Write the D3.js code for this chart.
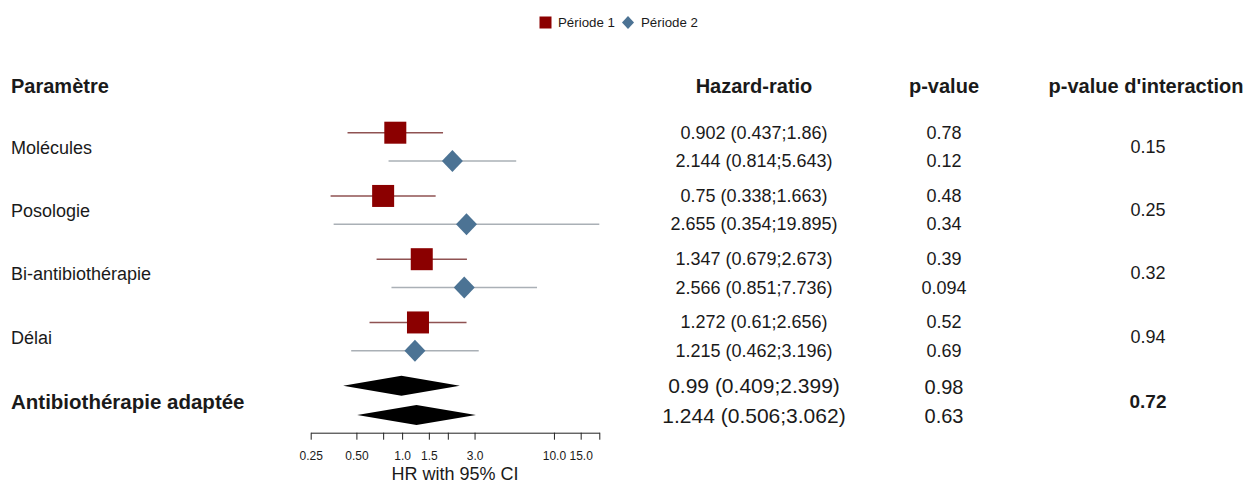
<!DOCTYPE html>
<html>
<head>
<meta charset="utf-8">
<script src="https://cdn.jsdelivr.net/npm/d3@7"></script>
<style>
  html, body { margin: 0; padding: 0; background: #fff; }
  svg text { font-family: "Liberation Sans", Arial, sans-serif; fill: #1a1a1a; }
</style>
</head>
<body>
<svg id="chart" width="1250" height="483"></svg>
<script>
// Subgroup parameters
const params = ["Molécules", "Posologie", "Bi-antibiothérapie", "Délai"];
const summaryLabel = "Antibiothérapie adaptée";

// Période 1 estimates
const hrP1   = [0.902, 0.75, 1.347, 1.272];
const lowP1  = [0.437, 0.338, 0.679, 0.61];
const highP1 = [1.86, 1.663, 2.673, 2.656];
const pP1    = ["0.78", "0.48", "0.39", "0.52"];

// Période 2 estimates
const hrP2   = [2.144, 2.655, 2.566, 1.215];
const lowP2  = [0.814, 0.354, 0.851, 0.462];
const highP2 = [5.643, 19.895, 7.736, 3.196];
const pP2    = ["0.12", "0.34", "0.094", "0.69"];

// Interaction p-values per parameter
const pInter = ["0.15", "0.25", "0.32", "0.94"];

// Overall (summary) estimates: Période 1, Période 2
const hrSum   = [0.99, 1.244];
const lowSum  = [0.409, 0.506];
const highSum = [2.399, 3.062];
const pSum    = ["0.98", "0.63"];
const pInterSum = "0.72";

// Axis ticks
const tickValues = [0.25, 0.5, 0.75, 1, 1.5, 2, 3, 10, 15, 19.895];
const tickLabels = ["0.25", "0.50", "", "1.0", "1.5", "", "3.0", "10.0", "15.0", ""];

const svg = d3.select("#chart");

const x = d3.scaleLog().domain([0.25, 19.895]).range([310.7, 599.3]);
// row of each parameter group (index 4 = overall)
const gy = d3.scaleLinear().domain([0, 4]).range([132.7, 385.7]);
const pairOffset = 28.4;

const colP1 = "#8b0000", colP1Line = "#8f5252";
const colP2 = "#4c7394", colP2Line = "#aab0b6";

const fmt = (h, l, u) => `${h} (${l};${u})`;

// ---- Legend ----
const legend = svg.append("g");
legend.append("rect").attr("x", 539.5).attr("y", 16.5).attr("width", 12).attr("height", 12).attr("fill", colP1);
legend.append("text").attr("x", 558).attr("y", 22.5).attr("dominant-baseline", "central")
  .attr("font-size", 13.3).text("Période 1");
legend.append("path").attr("transform", "translate(628,22.5)")
  .attr("d", "M0,-6.5L6,0L0,6.5L-6,0Z").attr("fill", colP2);
legend.append("text").attr("x", 641).attr("y", 22.5).attr("dominant-baseline", "central")
  .attr("font-size", 13.3).text("Période 2");

// ---- Headers ----
const headY = 86;
svg.append("text").attr("x", 11).attr("y", headY).attr("dominant-baseline", "central")
  .attr("font-size", 20).attr("font-weight", "bold").text("Paramètre");
svg.append("text").attr("x", 754).attr("y", headY).attr("text-anchor", "middle").attr("dominant-baseline", "central")
  .attr("font-size", 20).attr("font-weight", "bold").text("Hazard-ratio");
svg.append("text").attr("x", 944).attr("y", headY).attr("text-anchor", "middle").attr("dominant-baseline", "central")
  .attr("font-size", 20).attr("font-weight", "bold").text("p-value");
svg.append("text").attr("x", 1146).attr("y", headY).attr("text-anchor", "middle").attr("dominant-baseline", "central")
  .attr("font-size", 20).attr("font-weight", "bold").text("p-value d'interaction");

// ---- Subgroup rows ----
params.forEach((name, i) => {
  const y1 = gy(i), y2 = gy(i) + pairOffset, ym = (y1 + y2) / 2;

  svg.append("text").attr("x", 11).attr("y", ym + 1).attr("dominant-baseline", "central")
    .attr("font-size", 18).text(name);

  // CI lines
  svg.append("line").attr("x1", x(lowP1[i])).attr("x2", x(highP1[i])).attr("y1", y1).attr("y2", y1)
    .attr("stroke", colP1Line).attr("stroke-width", 1.5);
  svg.append("line").attr("x1", x(lowP2[i])).attr("x2", x(highP2[i])).attr("y1", y2).attr("y2", y2)
    .attr("stroke", colP2Line).attr("stroke-width", 1.5);

  // point estimates
  const s = 22;
  svg.append("rect").attr("x", x(hrP1[i]) - s / 2).attr("y", y1 - s / 2)
    .attr("width", s).attr("height", s).attr("fill", colP1);
  svg.append("path").attr("transform", `translate(${x(hrP2[i])},${y2})`)
    .attr("d", "M0,-11L10.5,0L0,11L-10.5,0Z").attr("fill", colP2);

  // table columns
  svg.append("text").attr("x", 754).attr("y", y1).attr("text-anchor", "middle").attr("dominant-baseline", "central")
    .attr("font-size", 18).text(fmt(hrP1[i], lowP1[i], highP1[i]));
  svg.append("text").attr("x", 754).attr("y", y2).attr("text-anchor", "middle").attr("dominant-baseline", "central")
    .attr("font-size", 18).text(fmt(hrP2[i], lowP2[i], highP2[i]));
  svg.append("text").attr("x", 944).attr("y", y1).attr("text-anchor", "middle").attr("dominant-baseline", "central")
    .attr("font-size", 18).text(pP1[i]);
  svg.append("text").attr("x", 944).attr("y", y2).attr("text-anchor", "middle").attr("dominant-baseline", "central")
    .attr("font-size", 18).text(pP2[i]);
  svg.append("text").attr("x", 1148).attr("y", ym).attr("text-anchor", "middle").attr("dominant-baseline", "central")
    .attr("font-size", 18).text(pInter[i]);
});

// ---- Overall rows ----
const sy = [gy(4), gy(4) + 29.3];
const sm = (sy[0] + sy[1]) / 2;
svg.append("text").attr("x", 11).attr("y", sm + 1.5).attr("dominant-baseline", "central")
  .attr("font-size", 20.5).attr("font-weight", "bold").text(summaryLabel);
hrSum.forEach((h, k) => {
  const y = sy[k], hh = 10;
  svg.append("path")
    .attr("d", `M${x(lowSum[k])},${y}L${x(h)},${y - hh}L${x(highSum[k])},${y}L${x(h)},${y + hh}Z`)
    .attr("fill", "#000");
  svg.append("text").attr("x", 754).attr("y", y).attr("text-anchor", "middle").attr("dominant-baseline", "central")
    .attr("font-size", 21).text(fmt(h, lowSum[k], highSum[k]));
  svg.append("text").attr("x", 944).attr("y", y + 1).attr("text-anchor", "middle").attr("dominant-baseline", "central")
    .attr("font-size", 20).text(pSum[k]);
});
svg.append("text").attr("x", 1148).attr("y", sm + 1).attr("text-anchor", "middle").attr("dominant-baseline", "central")
  .attr("font-size", 19).attr("font-weight", "bold").text(pInterSum);

// ---- X axis ----
const axisY = 432.7;
const axis = d3.axisBottom(x)
  .tickValues(tickValues)
  .tickFormat((d, i) => tickLabels[i])
  .tickSize(7).tickSizeOuter(0).tickPadding(12);
const ag = svg.append("g").attr("transform", `translate(0,${axisY})`).call(axis);
ag.select(".domain").attr("stroke", "#222");
ag.selectAll(".tick line").attr("stroke", "#222");
ag.selectAll(".tick text").attr("font-size", 12).attr("font-family", "Liberation Sans, Arial, sans-serif").attr("fill", "#1a1a1a");

svg.append("text").attr("x", (x.range()[0] + x.range()[1]) / 2).attr("y", 474)
  .attr("text-anchor", "middle").attr("dominant-baseline", "central")
  .attr("font-size", 18).text("HR with 95% CI");
</script>
</body>
</html>
